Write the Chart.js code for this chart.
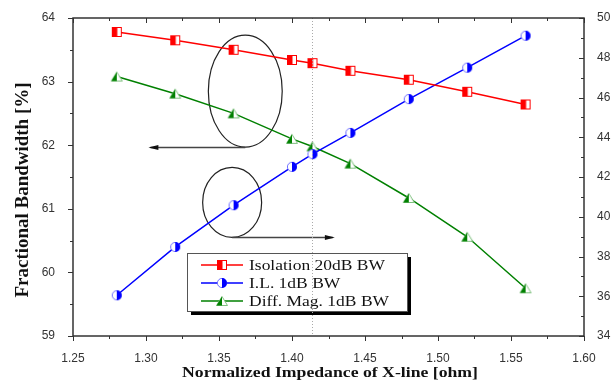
<!DOCTYPE html>
<html>
<head>
<meta charset="utf-8">
<script src="https://cdn.jsdelivr.net/npm/chart.js@4.4.1/dist/chart.umd.min.js"></script>
<style>
html,body{margin:0;padding:0;background:#fff;}
#wrap{width:612px;height:383px;position:relative;}
</style>
</head>
<body>
<div id="wrap"><canvas id="c" width="612" height="383"></canvas></div>
<script>
// ---- data ----
const impedance = [1.28, 1.32, 1.36, 1.40, 1.414, 1.44, 1.48, 1.52, 1.56];
const isolationBW = [63.78, 63.65, 63.50, 63.34, 63.29, 63.17, 63.03, 62.84, 62.64];
const ilBW = [36.05, 38.48, 40.58, 42.51, 43.15, 44.22, 45.92, 47.50, 49.11];
const diffMagBW = [63.08, 62.81, 62.50, 62.10, 61.98, 61.71, 61.17, 60.56, 59.75];
const seriesNames = ['Isolation 20dB BW', 'I.L. 1dB BW', 'Diff. Mag. 1dB BW'];
const xTitle = 'Normalized Impedance of X-line [ohm]';
const yTitle = 'Fractional Bandwidth [%]';
const markerX = 1.414;

// ---- markers ----
function squareMarker(){
  const c=document.createElement('canvas');c.width=12;c.height=12;const g=c.getContext('2d');
  g.fillStyle='#fff';g.fillRect(1.5,1.5,9,9);
  g.fillStyle='#ff0000';g.fillRect(1.5,1.5,5,9);
  g.strokeStyle='#ff0000';g.lineWidth=1;g.strokeRect(1.5,1.5,9,9);
  return c;
}
function circleMarker(){
  const c=document.createElement('canvas');c.width=12;c.height=12;const g=c.getContext('2d');
  g.beginPath();g.arc(6,6,4.6,0,Math.PI*2);g.fillStyle='#fff';g.fill();
  g.strokeStyle='#6f6fff';g.lineWidth=1;g.stroke();
  g.beginPath();g.arc(6,6,4.9,-Math.PI/2,Math.PI/2);g.closePath();g.fillStyle='#0000ff';g.fill();
  return c;
}
function triMarker(){
  const c=document.createElement('canvas');c.width=14;c.height=12;const g=c.getContext('2d');
  g.beginPath();g.moveTo(7,1.5);g.lineTo(12.5,10.5);g.lineTo(1.5,10.5);g.closePath();
  g.fillStyle='#fff';g.fill();g.strokeStyle='#7fc07f';g.lineWidth=1;g.stroke();
  g.beginPath();g.moveTo(7,1.5);g.lineTo(7,10.5);g.lineTo(1.5,10.5);g.closePath();
  g.fillStyle='#008000';g.fill();
  return c;
}
const mSq=squareMarker(), mCi=circleMarker(), mTr=triMarker();

function pts(ys){return impedance.map((x,i)=>({x:x,y:ys[i]}));}

const serif='"Liberation Serif","Times New Roman",serif';
const sans='"Liberation Sans",Arial,sans-serif';

// draw text stretched/compressed to a target width; (x,y) = left-middle or center-middle
function fitText(ctx,text,x,y,w,align){
  const m=ctx.measureText(text).width;
  const s=w/m;
  ctx.save();ctx.translate(x,y);ctx.scale(s,1);
  ctx.textAlign=align;ctx.fillText(text,0,0);
  ctx.restore();
}

const deco = {
  id:'deco',
  beforeDatasetsDraw(chart){
    const {ctx, chartArea:a, scales:{x,y}} = chart;
    ctx.save();
    ctx.strokeStyle='#222';ctx.lineWidth=1.2;
    const ell=(cx,cy,rx,ry)=>{
      const px=x.getPixelForValue(cx), py=y.getPixelForValue(cy);
      const prx=Math.abs(x.getPixelForValue(cx+rx)-px), pry=Math.abs(y.getPixelForValue(cy+ry)-py);
      ctx.beginPath();ctx.ellipse(px,py,prx,pry,0,0,Math.PI*2);ctx.stroke();
    };
    ell(1.368,62.85,0.0253,0.88);
    ell(1.359,61.10,0.0202,0.55);
    const arrow=(x0,x1,yy)=>{
      const p0=x.getPixelForValue(x0), p1=x.getPixelForValue(x1), py=Math.round(y.getPixelForValue(yy))+0.5;
      ctx.strokeStyle='#444';ctx.lineWidth=1.5;
      ctx.beginPath();ctx.moveTo(p0,py);ctx.lineTo(p1,py);ctx.stroke();
      const d=Math.sign(p1-p0);
      ctx.fillStyle='#111';ctx.beginPath();ctx.moveTo(p1+d*2,py);ctx.lineTo(p1-d*8,py-2.5);ctx.lineTo(p1-d*8,py+2.5);ctx.closePath();ctx.fill();
    };
    arrow(1.368,1.303,61.97);
    arrow(1.359,1.428,60.56);
    ctx.restore();
  },
  afterDatasetsDraw(chart){
    const {ctx, chartArea:a, scales:{x,y,y2}} = chart;
    ctx.save();
    // legend
    const lx=187, ly=253, lw=220, lh=58;
    ctx.fillStyle='#000';ctx.fillRect(lx+4,ly+lh,lw,4);ctx.fillRect(lx+lw,ly+4,4,lh);
    ctx.fillStyle='#fff';ctx.fillRect(lx,ly,lw,lh);
    ctx.strokeStyle='#555';ctx.lineWidth=1;ctx.strokeRect(lx+0.5,ly+0.5,lw,lh);
    const cols=['#ff0000','#0000ff','#008000'];
    const mk=[mSq,mCi,mTr];
    const ys=[265,283,301];
    const widths=[136,0,0];
    ctx.font='15px '+serif;ctx.textBaseline='middle';ctx.textAlign='left';
    const sc=136/ctx.measureText(seriesNames[0]).width;
    for(let i=0;i<3;i++){
      ctx.strokeStyle=cols[i];ctx.lineWidth=1.5;
      ctx.beginPath();ctx.moveTo(201,ys[i]);ctx.lineTo(243,ys[i]);ctx.stroke();
      ctx.drawImage(mk[i],222-mk[i].width/2,ys[i]-mk[i].height/2);
      ctx.fillStyle='#111';
      fitText(ctx,seriesNames[i],249,ys[i]+1,ctx.measureText(seriesNames[i]).width*sc,'left');
    }
    // dotted vertical line
    const vx=Math.round(x.getPixelForValue(markerX))+0.5;
    ctx.strokeStyle='#aaa';ctx.lineWidth=1;ctx.setLineDash([1,2]);
    ctx.beginPath();ctx.moveTo(vx,a.top);ctx.lineTo(vx,a.bottom);ctx.stroke();
    ctx.setLineDash([]);
    // frame
    ctx.strokeStyle='#333';ctx.lineWidth=1.5;
    ctx.strokeRect(a.left,a.top,a.right-a.left,a.bottom-a.top);
    // ticks
    ctx.lineWidth=1;ctx.strokeStyle='#333';
    ctx.beginPath();
    for(let k=0;k<=14;k++){
      const v=1.25+k*0.025; const px=Math.round(x.getPixelForValue(v))+0.5;
      const L=(k%2===0)?5:3;
      ctx.moveTo(px,a.bottom);ctx.lineTo(px,a.bottom+L);
      ctx.moveTo(px,a.top);ctx.lineTo(px,a.top+L);
    }
    for(let k=0;k<=10;k++){
      const v=59+k*0.5; const py=Math.round(y.getPixelForValue(v))+0.5;
      const L=(k%2===0)?5:3;
      ctx.moveTo(a.left,py);ctx.lineTo(a.left-L,py);
    }
    for(let k=0;k<=16;k++){
      const v=34+k; const py=Math.round(y2.getPixelForValue(v))+0.5;
      const L=(k%2===0)?5:3;
      ctx.moveTo(a.right,py);ctx.lineTo(a.right-L,py);
    }
    ctx.stroke();
    // titles
    ctx.fillStyle='#111';ctx.textBaseline='middle';
    ctx.font='bold 15px '+serif;
    fitText(ctx,xTitle,330,373,296,'center');
    ctx.save();ctx.translate(23,190);ctx.rotate(-Math.PI/2);
    ctx.font='bold 19px '+serif;
    fitText(ctx,yTitle,0,0,215,'center');
    ctx.restore();
    ctx.restore();
  }
};

new Chart(document.getElementById('c'),{
  type:'line',
  data:{datasets:[
    {label:seriesNames[0],data:pts(isolationBW),yAxisID:'y',borderColor:'#ff0000',borderWidth:1.5,pointStyle:mSq,pointRadius:5,tension:0},
    {label:seriesNames[1],data:pts(ilBW),yAxisID:'y2',borderColor:'#0000ff',borderWidth:1.5,pointStyle:mCi,pointRadius:5,tension:0},
    {label:seriesNames[2],data:pts(diffMagBW),yAxisID:'y',borderColor:'#008000',borderWidth:1.5,pointStyle:mTr,pointRadius:5,tension:0}
  ]},
  options:{
    responsive:false,animation:false,
    layout:{padding:{top:18,left:0,right:0,bottom:0}},
    plugins:{legend:{display:false},tooltip:{enabled:false}},
    scales:{
      x:{type:'linear',min:1.25,max:1.60,
        afterFit(s){s.height=47;},
        grid:{display:false},border:{display:false},
        ticks:{stepSize:0.05,padding:7,color:'#333',font:{family:sans,size:12},callback:v=>v.toFixed(2),maxRotation:0,autoSkip:false}},
      y:{position:'left',min:59,max:64,
        afterFit(s){s.width=73;},
        grid:{display:false},border:{display:false},
        ticks:{stepSize:1,padding:10,color:'#333',font:{family:sans,size:12}}},
      y2:{position:'right',min:34,max:50,
        afterFit(s){s.width=28;},
        grid:{display:false},border:{display:false},
        ticks:{stepSize:2,padding:5,color:'#333',font:{family:sans,size:12}}}
    }
  },
  plugins:[deco]
});
</script>
</body>
</html>
